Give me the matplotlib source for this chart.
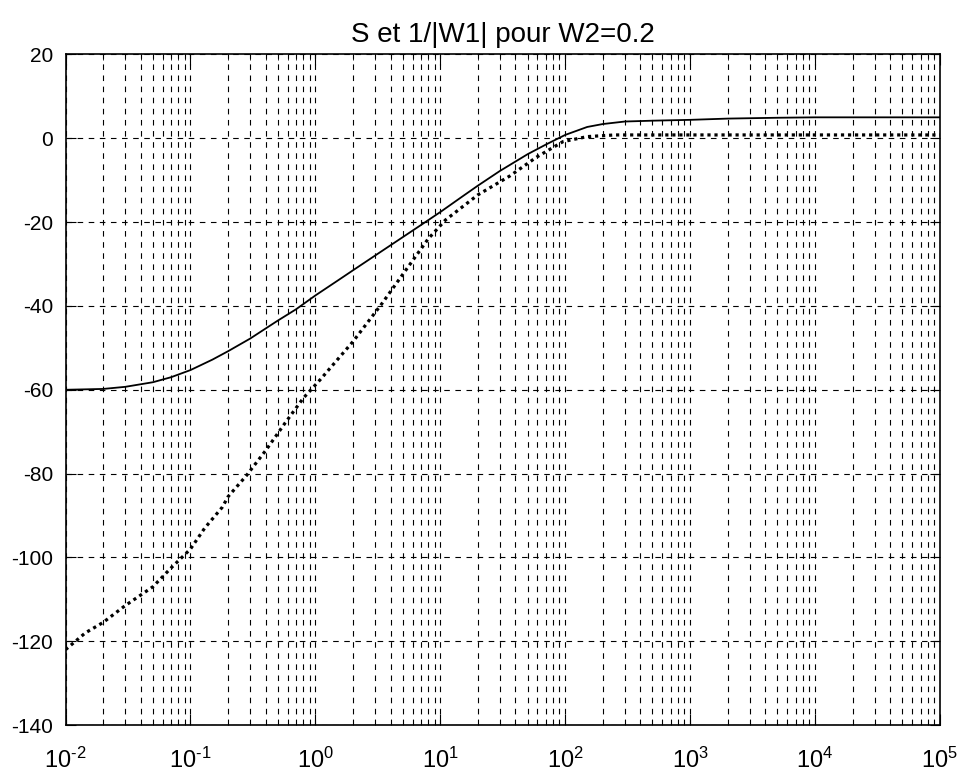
import numpy as np
import matplotlib
matplotlib.use("Agg")
import matplotlib.pyplot as plt
from matplotlib.ticker import LogLocator, NullFormatter, FuncFormatter

# Solid curve: S (dB)
s_freq = [0.01, 0.02, 0.03, 0.05, 0.07, 0.1, 0.15, 0.2, 0.3, 0.5, 0.7, 1.0, 1.5, 2.0,
          3.0, 5.0, 7.0, 10.0, 15.0, 20.0, 30.0, 50.0, 70.0, 100.0, 150.0, 200.0,
          300.0, 500.0, 1000.0, 2000.0, 5000.0, 1e4, 1e5]
s_db = [-60.0, -59.8, -59.3, -58.2, -57.0, -55.3, -52.8, -50.8, -47.8, -43.5, -40.8,
        -37.5, -34.0, -31.5, -28.0, -23.6, -20.7, -17.6, -13.9, -11.3, -7.8, -3.8,
        -1.5, 0.8, 2.7, 3.4, 4.0, 4.2, 4.4, 4.7, 4.9, 5.0, 5.0]

# Dotted curve: 1/|W1| (dB)
w_freq = [0.01, 0.0144, 0.02, 0.03, 0.05, 0.07, 0.1, 0.13, 0.18, 0.2, 0.28, 0.4, 0.57,
          0.8, 1.1, 2.0, 3.4, 5.0, 8.0, 11.0, 20.0, 36.0, 59.0, 96.0, 150.0, 250.0,
          1000.0, 1e4, 1e5]
w_db = [-122.0, -118.0, -115.5, -111.5, -107.0, -102.5, -98.0, -93.0, -88.0, -85.5,
        -80.5, -74.5, -68.0, -62.0, -57.5, -48.5, -39.5, -32.5, -24.0, -19.5, -13.5,
        -9.0, -4.5, -0.8, 0.4, 0.8, 0.8, 0.8, 0.8]

title = "S et 1/|W1| pour W2=0.2"
y_ticks = [-140, -120, -100, -80, -60, -40, -20, 0, 20]

plt.rcParams['font.family'] = ['Liberation Sans', 'DejaVu Sans']
plt.rcParams['axes.unicode_minus'] = False
plt.rcParams['mathtext.fontset'] = 'custom'
plt.rcParams['mathtext.rm'] = 'Liberation Sans'
plt.rcParams['mathtext.it'] = 'Liberation Sans'
plt.rcParams['mathtext.bf'] = 'Liberation Sans:bold'
plt.rcParams['mathtext.default'] = 'regular'


def decade_label(val, pos):
    e = int(round(np.log10(val)))
    if e < 0:
        return r"$10^{\text{-}%d}$" % (-e)
    return r"$10^{%d}$" % e


fig = plt.figure(figsize=(9.64, 7.78), dpi=100)
ax = fig.add_axes([0.068, 0.068, 0.907, 0.862])

ax.semilogx(s_freq, s_db, color='black', linewidth=1.3, linestyle='-')
ax.semilogx(w_freq, w_db, color='black', linewidth=2.3, linestyle=(0, (1, 1.2)))

ax.set_xlim(1e-2, 1e5)
ax.set_ylim(-140, 20)
ax.set_yticks(y_ticks)
ax.xaxis.set_major_locator(LogLocator(base=10, numticks=20))
ax.xaxis.set_major_formatter(FuncFormatter(decade_label))
ax.xaxis.set_minor_locator(LogLocator(base=10, subs=np.arange(2, 10), numticks=100))
ax.xaxis.set_minor_formatter(NullFormatter())

grid_kw = dict(color='black', linewidth=0.8, linestyle=(0, (5, 5)))
ax.grid(True, which='major', axis='both', **grid_kw)
ax.grid(True, which='minor', axis='x', **grid_kw)

ax.tick_params(axis='both', which='both', direction='in', top=True, right=True,
               colors='black')
ax.tick_params(axis='x', which='major', length=8, pad=16, labelsize=17)
ax.tick_params(axis='x', which='minor', length=4)
ax.tick_params(axis='y', which='major', length=7, pad=9, labelsize=15)

for sp in ax.spines.values():
    sp.set_color('black')
    sp.set_linewidth(1.2)

ax.set_title(title, fontsize=20, pad=9)

fig.savefig("out.png", dpi=100, facecolor='white')
